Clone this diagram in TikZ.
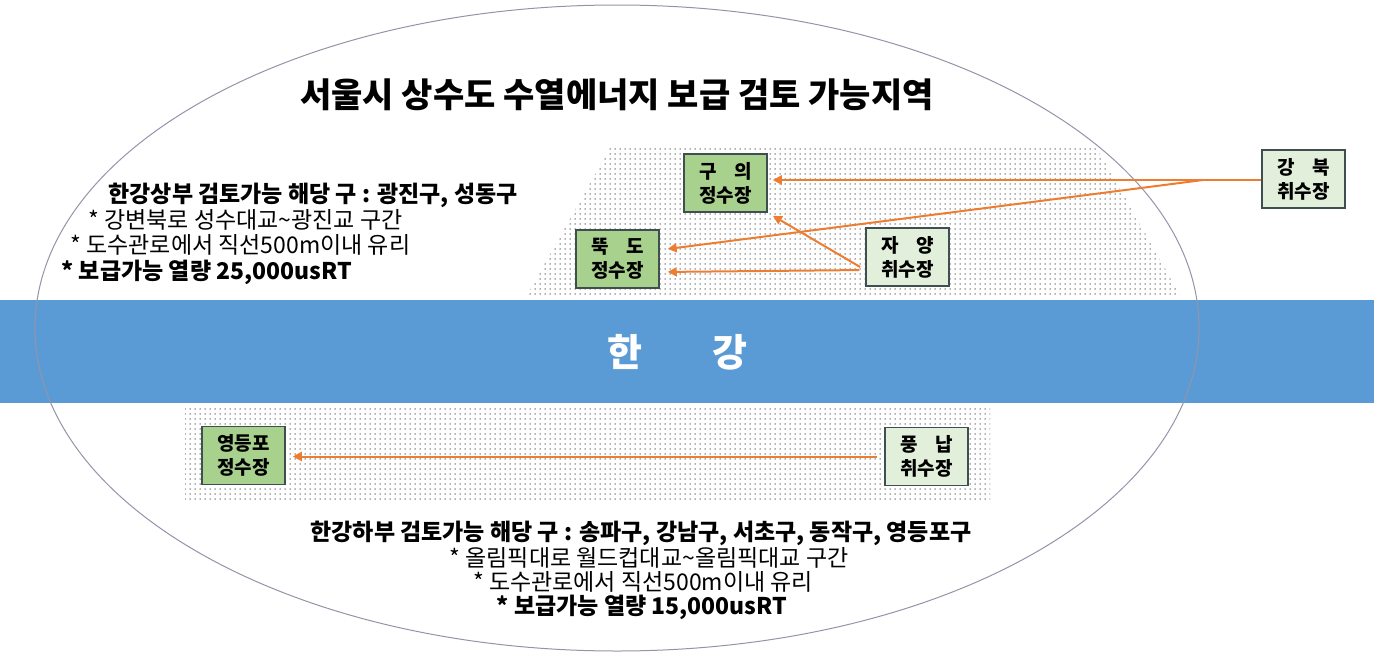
\documentclass[tikz,border=0pt]{standalone}
\usepackage{fontspec}
\setmainfont{Noto Sans CJK KR}
\usetikzlibrary{arrows.meta,patterns.meta}
\definecolor{riverblue}{HTML}{5B9BD5}
\definecolor{arrorange}{HTML}{ED7D31}
\definecolor{plantgreen}{HTML}{A9D18E}
\definecolor{intakefill}{HTML}{E2EFDA}
\definecolor{boxedge}{HTML}{3F4F4F}
\definecolor{ellgray}{HTML}{9494A8}
\definecolor{dotgray}{HTML}{606060}
\begin{document}
\begin{tikzpicture}[x=1pt,y=-1pt,
  plant/.style={draw=boxedge,line width=1.5pt,fill=plantgreen,minimum width=83pt,minimum height=58pt,align=center,font=\fontsize{19}{24}\selectfont\bfseries,inner sep=0pt},
  intake/.style={plant,fill=intakefill},
  flow/.style={draw=arrorange,line width=2pt,-{Triangle[length=9pt,width=9pt]}},
  flowline/.style={draw=arrorange,line width=2pt},
  stipple/.style={pattern={Dots[distance=5pt,radius=0.75pt]},pattern color=dotgray},
  boldtxt/.style={font=\fontsize{23}{26}\selectfont\bfseries},
  plaintxt/.style={font=\fontsize{23}{26}\selectfont},
]
\useasboundingbox (0,0) rectangle (1374,654);
% stippled areas
\path[stipple] (610,148) -- (1097,148) -- (1180,295) -- (527,295) -- cycle;
\path[stipple] (185,405) rectangle (990,502);
% river
\fill[riverblue] (0,300) rectangle (1374,403);
\node[text=white,font=\fontsize{38}{44}\selectfont\bfseries] (river) at (677,352) {한\hspace{70pt}강};
% ellipse
\draw[ellgray,line width=1pt] (617,328) ellipse [x radius=582, y radius=323];
% title
\node[font=\fontsize{34}{40}\selectfont\bfseries] (title) at (617,95) {서울시 상수도 수열에너지 보급 검토 가능지역};
% boxes
\node[plant] (guui) at (725.5,183) {구\hspace{0.9em}의\\정수장};
\node[plant] (ttukdo) at (617.5,259) {뚝\hspace{0.9em}도\\정수장};
\node[intake] (jayang) at (907.5,257) {자\hspace{0.9em}양\\취수장};
\node[intake] (gangbuk) at (1303.5,179) {강\hspace{0.9em}북\\취수장};
\node[plant] (ydp) at (243.5,455.5) {영등포\\정수장};
\node[intake] (pungnap) at (926.5,456.5) {풍\hspace{0.9em}납\\취수장};
% connectors
\coordinate (jn) at (1203,180);
\draw[flowline] (gangbuk.west|-jn) -- (jn);
\draw[flow,shorten >=5pt] (jn) -- (guui.east|-jn);
\draw[flow,shorten >=8pt] (jn) -- ([yshift=9pt]ttukdo.east);
\draw[flow,shorten <=6pt,shorten >=6pt] ([yshift=-13pt]jayang.west) -- (guui.south east);
\draw[flow,shorten <=6pt,shorten >=8pt] ([yshift=-13pt]jayang.west) -- ([yshift=-13pt]ttukdo.east);
\draw[flow,shorten <=7pt,shorten >=7pt] (pungnap.west) -- (ydp.east|-pungnap.west);
% upper text
\node[boldtxt,anchor=west] (u1) at (105,195) {한강상부 검토가능 해당 구 : 광진구, 성동구};
\node[plaintxt,anchor=west] (u2) at (85,220) {* 강변북로 성수대교\textasciitilde 광진교 구간};
\node[plaintxt,anchor=west] (u3) at (67,245) {* 도수관로에서 직선500m이내 유리};
\node[boldtxt,anchor=west] (u4) at (58,272) {* 보급가능 열량 25,000usRT};
% lower text
\node[boldtxt] (l1) at (641,533) {한강하부 검토가능 해당 구 : 송파구, 강남구, 서초구, 동작구, 영등포구};
\node[plaintxt] (l2) at (649,558) {* 올림픽대로 월드컵대교\textasciitilde 올림픽대교 구간};
\node[plaintxt] (l3) at (643,582) {* 도수관로에서 직선500m이내 유리};
\node[boldtxt] (l4) at (642,607) {* 보급가능 열량 15,000usRT};
\end{tikzpicture}
\end{document}
